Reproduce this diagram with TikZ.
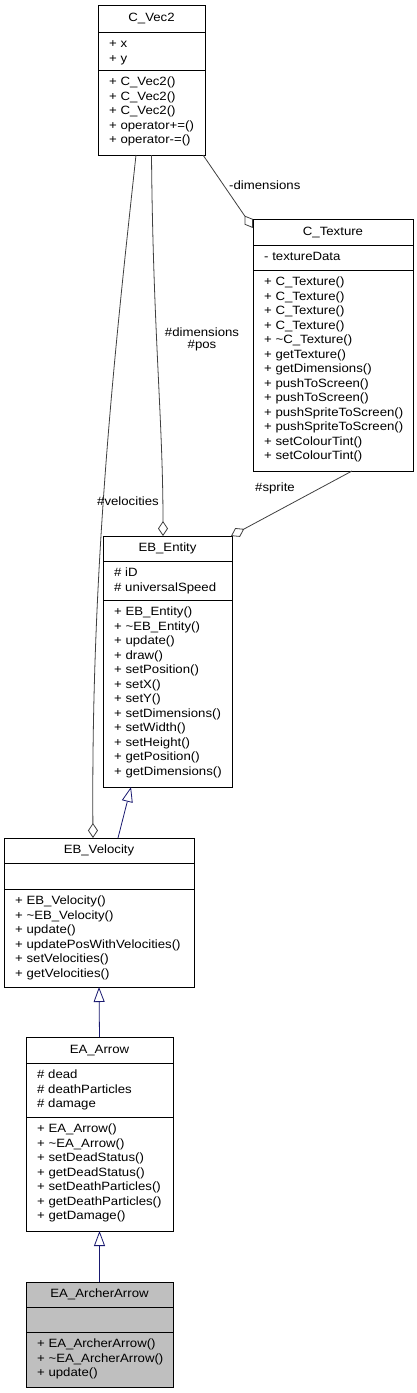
\documentclass[tikz,border=0pt]{standalone}
\usepackage{fontspec}
\setmainfont{Liberation Sans}[FakeStretch=1.1]
\usetikzlibrary{arrows.meta}
\definecolor{edgegray}{HTML}{404040}
\definecolor{inhblue}{HTML}{191970}
\definecolor{leafgray}{HTML}{BFBFBF}
\begin{document}
\begin{tikzpicture}[x=1pt,y=-1pt,
  cls/.style={draw=black,line width=0.9pt,fill=white,anchor=north west,inner sep=0pt,outer sep=0pt},
  dv/.style={draw=black,line width=0.9pt},
  ttl/.style={font=\fontsize{12}{13}\selectfont,inner sep=0pt,text height=9pt,text depth=3pt},
  ln/.style={font=\fontsize{12}{13}\selectfont,inner sep=0pt,anchor=west,text height=9pt,text depth=3pt},
  lbl/.style={font=\fontsize{12}{13}\selectfont,inner sep=0pt,text height=9pt,text depth=3pt},
  agg/.style={draw=edgegray,line width=0.8pt,-{Diamond[fill=white,length=15pt,width=10pt,line width=0.8pt]}},
  inh/.style={draw=inhblue,line width=0.8pt,-{Triangle[fill=white,length=15pt,width=11pt,line width=0.8pt]}}]
\useasboundingbox[fill=white] (0,0) rectangle (417,1393);

% ---------- C_Vec2
\node[cls,minimum width=107pt,minimum height=150pt] (vec) at (98,5) {};
\node[ttl] (vec-t) at (151.5,18.5) {C\_Vec2};
\draw[dv] (98,32) -- (205,32) (98,70) -- (205,70);
\foreach \s [count=\i] in {+ x,+ y}
  \node[ln] (vec-a\i) at (109,{30+14.5*\i}) {\s};
\foreach \s [count=\i] in {+ C\_Vec2(),+ C\_Vec2(),+ C\_Vec2(),+ operator+=(),+ operator-=()}
  \node[ln] (vec-m\i) at (109,{68+14.5*\i}) {\s};

% ---------- C_Texture
\node[cls,minimum width=160pt,minimum height=252pt] (tex) at (253,219) {};
\node[ttl] (tex-t) at (333,232) {C\_Texture};
\draw[dv] (253,245) -- (413,245) (253,270) -- (413,270);
\node[ln] (tex-a1) at (264,257.5) {- textureData};
\foreach \s [count=\i] in {+ C\_Texture(),+ C\_Texture(),+ C\_Texture(),+ C\_Texture(),+ \textasciitilde C\_Texture(),+ getTexture(),+ getDimensions(),+ pushToScreen(),+ pushToScreen(),+ pushSpriteToScreen(),+ pushSpriteToScreen(),+ setColourTint(),+ setColourTint()}
  \node[ln] (tex-m\i) at (264,{268+14.5*\i}) {\s};

% ---------- EB_Entity
\node[cls,minimum width=129pt,minimum height=251pt] (ent) at (103,536) {};
\node[ttl] (ent-t) at (167.5,548.5) {EB\_Entity};
\draw[dv] (103,561) -- (232,561) (103,600) -- (232,600);
\foreach \s [count=\i] in {\# iD,\# universalSpeed}
  \node[ln] (ent-a\i) at (114,{559+14.5*\i}) {\s};
\foreach \s [count=\i] in {+ EB\_Entity(),+ \textasciitilde EB\_Entity(),+ update(),+ draw(),+ setPosition(),+ setX(),+ setY(),+ setDimensions(),+ setWidth(),+ setHeight(),+ getPosition(),+ getDimensions()}
  \node[ln] (ent-m\i) at (114,{598+14.5*\i}) {\s};

% ---------- EB_Velocity
\node[cls,minimum width=190pt,minimum height=149pt] (vel) at (4,838) {};
\node[ttl] (vel-t) at (99,850.5) {EB\_Velocity};
\draw[dv] (4,863) -- (194,863) (4,889) -- (194,889);
\foreach \s [count=\i] in {+ EB\_Velocity(),+ \textasciitilde EB\_Velocity(),+ update(),+ updatePosWithVelocities(),+ setVelocities(),+ getVelocities()}
  \node[ln] (vel-m\i) at (15,{887+14.5*\i}) {\s};

% ---------- EA_Arrow
\node[cls,minimum width=147pt,minimum height=194pt] (arr) at (26,1037) {};
\node[ttl] (arr-t) at (99.5,1050) {EA\_Arrow};
\draw[dv] (26,1063) -- (173,1063) (26,1117) -- (173,1117);
\foreach \s [count=\i] in {\# dead,\# deathParticles,\# damage}
  \node[ln] (arr-a\i) at (37,{1061+14.5*\i}) {\s};
\foreach \s [count=\i] in {+ EA\_Arrow(),+ \textasciitilde EA\_Arrow(),+ setDeadStatus(),+ getDeadStatus(),+ setDeathParticles(),+ getDeathParticles(),+ getDamage()}
  \node[ln] (arr-m\i) at (37,{1115+14.5*\i}) {\s};

% ---------- EA_ArcherArrow
\node[cls,fill=leafgray,minimum width=147pt,minimum height=105pt] (arch) at (26,1282) {};
\node[ttl] (arch-t) at (99.5,1294.5) {EA\_ArcherArrow};
\draw[dv] (26,1307) -- (173,1307) (26,1332) -- (173,1332);
\foreach \s [count=\i] in {+ EA\_ArcherArrow(),+ \textasciitilde EA\_ArcherArrow(),+ update()}
  \node[ln] (arch-m\i) at (37,{1330+14.5*\i}) {\s};

% ---------- connectors
\draw[agg] ([xshift=-2pt]vec.south east) -- ([yshift=-9pt]tex.north west);
\node[lbl,anchor=west] (l-dim) at (229,186) {-dimensions};

\draw[agg] (vec.south) .. controls (153,330) and (163,420) .. ([xshift=-4.5pt]ent.north);
\node[lbl,align=center] (l-dimpos) at (202,345) {\#dimensions\\[-1.2pt]\#pos};

\draw[agg] ([xshift=-61pt]tex.south east) -- ([xshift=-1pt]ent.north east);
\node[lbl,anchor=west] (l-spr) at (255,488) {\#sprite};

\draw[agg] ([xshift=-15.5pt]vec.south) .. controls (116,340) and (91,560) .. ([xshift=-6pt]vel.north);
\node[lbl,anchor=west] (l-vel) at (97,502) {\#velocities};

\draw[inh] ([xshift=19pt]vel.north) -- ([xshift=-36.5pt]ent.south);
\draw[inh] (arr.north) -- (vel.south);
\draw[inh] (arch.north) -- (arr.south);
\end{tikzpicture}
\end{document}
